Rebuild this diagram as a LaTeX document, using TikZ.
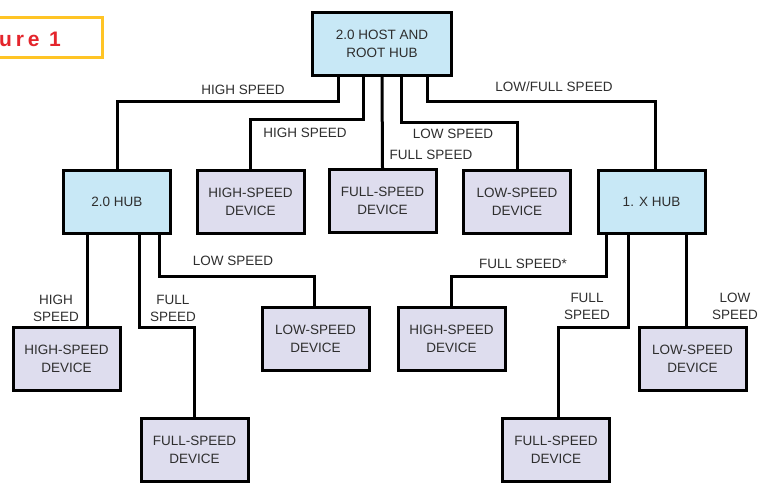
\documentclass[tikz,border=0pt]{standalone}
\usepackage{fontspec}
\setmainfont{Liberation Sans}
\usetikzlibrary{calc}
\definecolor{hubfill}{HTML}{C8E8F6}
\definecolor{devfill}{HTML}{DEDDEE}
\definecolor{txt}{HTML}{2E2E2E}
\definecolor{figred}{HTML}{E4252C}
\definecolor{figyel}{HTML}{FFC425}
\begin{document}
\begin{tikzpicture}[x=1pt,y=-1pt,
  box/.style={draw=black,line width=3pt,minimum width=107pt,minimum height=63pt,inner sep=0pt,align=center,text=txt,font=\fontsize{13.5}{18}\selectfont},
  hub/.style={box,fill=hubfill},
  dev/.style={box,fill=devfill},
  wire/.style={line width=3pt,draw=black},
  lab/.style={text=txt,align=center,inner sep=0pt,font=\fontsize{13.5}{17}\selectfont}]
\useasboundingbox (0,0) rectangle (763,484);
% figure label
\node[draw=figyel,line width=3pt,minimum width=107pt,minimum height=40pt,inner sep=0pt] (fig) at (49,37.5) {};
\node[anchor=base west,text=figred,inner sep=0pt,font=\fontsize{21}{24}\bfseries\addfontfeature{LetterSpace=18}] (figtxt) at (-1,47) {ure 1};
% nodes
\node[hub,minimum width=139pt] (root) at (382,44) {2.0 HOST AND\\ROOT HUB};
\node[hub] (hub20) at (117,202) {2.0 HUB};
\node[dev] (hsd1) at (250.5,202) {HIGH-SPEED\\DEVICE};
\node[dev] (fsd1) at (382.5,201) {FULL-SPEED\\DEVICE};
\node[dev] (lsd1) at (517,201.5) {LOW-SPEED\\DEVICE};
\node[hub] (hub1x) at (651.5,201.5) {1. X HUB};
\node[dev] (hsd2) at (66.5,359) {HIGH-SPEED\\DEVICE};
\node[dev] (fsd2) at (194.5,450) {FULL-SPEED\\DEVICE};
\node[dev] (lsd2) at (315.5,338.5) {LOW-SPEED\\DEVICE};
\node[dev] (hsd3) at (451.5,339) {HIGH-SPEED\\DEVICE};
\node[dev] (fsd3) at (556,450) {FULL-SPEED\\DEVICE};
\node[dev] (lsd3) at (692.5,359) {LOW-SPEED\\DEVICE};
% connectors from root
\draw[wire] ([xshift=-44pt]root.south) -- ++(0,25) -| (hub20.north);
\draw[wire] ([xshift=-19pt]root.south) -- ++(0,43) -| (hsd1.north);
\draw[wire] (root.south) -- (fsd1.north);
\draw[wire] ([xshift=19pt]root.south) -- ++(0,46) -| (lsd1.north);
\draw[wire] ([xshift=45pt]root.south) -- ++(0,25) -| ([xshift=4pt]hub1x.north);
% connectors from 2.0 hub
\draw[wire] ([xshift=-30pt]hub20.south) -- ([xshift=-30pt]hub20.south |- hsd2.north);
\draw[wire] ([xshift=22pt]hub20.south) -- ++(0,92) -| (fsd2.north);
\draw[wire] ([xshift=42pt]hub20.south) -- ++(0,41) -| ([xshift=-1.5pt]lsd2.north);
% connectors from 1.x hub
\draw[wire] ([xshift=-45.5pt]hub1x.south) -- ++(0,42) -| (hsd3.north);
\draw[wire] ([xshift=-23.5pt]hub1x.south) -- ++(0,93) -| ([xshift=2pt]fsd3.north);
\draw[wire] ([xshift=34.5pt]hub1x.south) -- ([xshift=34.5pt]hub1x.south |- lsd3.north);
% labels
\node[lab] (l1) at (243,90) {HIGH SPEED};
\node[lab] (l2) at (305,133) {HIGH SPEED};
\node[lab] (l3) at (431,155) {FULL SPEED};
\node[lab] (l4) at (453,134) {LOW SPEED};
\node[lab] (l5) at (554,87) {LOW/FULL SPEED};
\node[lab] (l6) at (56,308) {HIGH\\SPEED};
\node[lab] (l7) at (173,308) {FULL\\SPEED};
\node[lab] (l8) at (233,261) {LOW SPEED};
\node[lab] (l9) at (523,264) {FULL SPEED*};
\node[lab] (l10) at (587,306) {FULL\\SPEED};
\node[lab] (l11) at (735,306) {LOW\\SPEED};
\end{tikzpicture}
\end{document}
